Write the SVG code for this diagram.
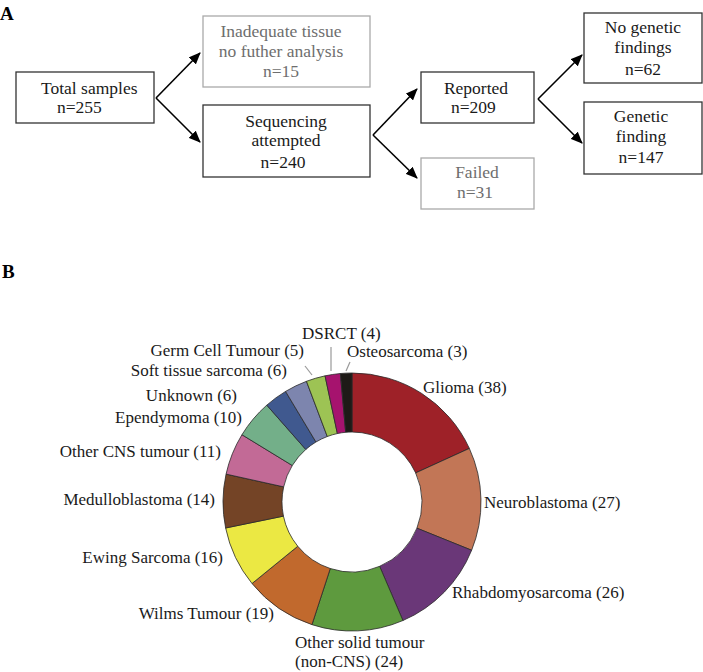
<svg xmlns="http://www.w3.org/2000/svg" width="703" height="672" viewBox="0 0 703 672">
<defs>
<marker id="ah" markerWidth="12" markerHeight="10" refX="11" refY="5" orient="auto" markerUnits="userSpaceOnUse">
<path d="M0,0 L12,5 L0,10 Z" fill="#000"/>
</marker>
</defs>
<style>
text{font-family:"Liberation Serif","Times New Roman",serif;font-size:17.5px;fill:#1a1a1a}
.g text{fill:#6e6e6e}
.box{fill:#fff;stroke:#333;stroke-width:1.3}
.gbox{fill:#fff;stroke:#aaa;stroke-width:1.3}
.lbl{font-size:17px}
.arr{stroke:#000;stroke-width:1.6;fill:none;marker-end:url(#ah)}
.seg{stroke:#2a2a2a;stroke-width:0.8}
.lead{stroke:#999;stroke-width:1.2}
.hdr{font-weight:bold;font-size:19px;fill:#000}
</style>
<rect width="703" height="672" fill="#fff"/>
<text class="hdr" x="0" y="20">A</text>
<text class="hdr" x="2" y="278">B</text>

<g id="connectors">
<line class="arr" x1="156" y1="98" x2="200" y2="53"/>
<line class="arr" x1="156" y1="98" x2="200" y2="142"/>
<line class="arr" x1="373" y1="135" x2="417" y2="89"/>
<line class="arr" x1="373" y1="135" x2="417" y2="178"/>
<line class="arr" x1="538" y1="99" x2="582" y2="55"/>
<line class="arr" x1="538" y1="99" x2="582" y2="143"/>
</g>

<g id="total">
<rect class="box" x="16" y="72" width="138" height="51"/>
<text x="41" y="94">Total samples</text>
<text x="57" y="113">n=255</text>
</g>
<g id="inadequate" class="g">
<rect class="gbox" x="203" y="16" width="167" height="71"/>
<text x="281" y="37" text-anchor="middle">Inadequate tissue</text>
<text x="281" y="57" text-anchor="middle">no futher analysis</text>
<text x="281" y="77" text-anchor="middle">n=15</text>
</g>
<g id="sequencing">
<rect class="box" x="203" y="105" width="167" height="72"/>
<text x="286" y="127" text-anchor="middle">Sequencing</text>
<text x="286" y="146" text-anchor="middle">attempted</text>
<text x="283" y="168" text-anchor="middle">n=240</text>
</g>
<g id="reported">
<rect class="box" x="421" y="72" width="113" height="51"/>
<text x="476" y="94" text-anchor="middle">Reported</text>
<text x="451" y="113">n=209</text>
</g>
<g id="failed" class="g">
<rect class="gbox" x="421" y="158" width="113" height="51"/>
<text x="477" y="178" text-anchor="middle">Failed</text>
<text x="457" y="198">n=31</text>
</g>
<g id="nogenetic">
<rect class="box" x="584" y="13" width="118" height="70"/>
<text x="643" y="33" text-anchor="middle">No genetic</text>
<text x="643" y="53" text-anchor="middle">findings</text>
<text x="643" y="75" text-anchor="middle">n=62</text>
</g>
<g id="genetic">
<rect class="box" x="584" y="102" width="118" height="72"/>
<text x="641" y="122" text-anchor="middle">Genetic</text>
<text x="641" y="142" text-anchor="middle">finding</text>
<text x="641" y="163" text-anchor="middle">n=147</text>
</g>

<g id="donut">
<path class="seg" fill="#9E2128" d="M352,373 A129,129 0 0 1 469.35,448.41 L415.68,472.92 A70,70 0 0 0 352,432 Z"/>
<path class="seg" fill="#C27656" d="M469.35,448.41 A129,129 0 0 1 471.63,550.25 L416.92,528.18 A70,70 0 0 0 415.68,472.92 Z"/>
<path class="seg" fill="#6A3778" d="M471.63,550.25 A129,129 0 0 1 402.93,620.53 L379.64,566.32 A70,70 0 0 0 416.92,528.18 Z"/>
<path class="seg" fill="#5E9A3E" d="M402.93,620.53 A129,129 0 0 1 311.96,624.63 L330.27,568.54 A70,70 0 0 0 379.64,566.32 Z"/>
<path class="seg" fill="#C1692D" d="M311.96,624.63 A129,129 0 0 1 252.02,583.53 L297.75,546.24 A70,70 0 0 0 330.27,568.54 Z"/>
<path class="seg" fill="#EBE843" d="M252.02,583.53 A129,129 0 0 1 225.64,527.99 L283.43,516.11 A70,70 0 0 0 297.75,546.24 Z"/>
<path class="seg" fill="#744426" d="M225.64,527.99 A129,129 0 0 1 226.06,474.11 L283.66,486.87 A70,70 0 0 0 283.43,516.11 Z"/>
<path class="seg" fill="#C26A96" d="M226.06,474.11 A129,129 0 0 1 241.94,434.73 L292.28,465.49 A70,70 0 0 0 283.66,486.87 Z"/>
<path class="seg" fill="#73AF89" d="M241.94,434.73 A129,129 0 0 1 266.78,405.15 L305.76,449.44 A70,70 0 0 0 292.28,465.49 Z"/>
<path class="seg" fill="#40598F" d="M266.78,405.15 A129,129 0 0 1 285.55,391.42 L315.94,442 A70,70 0 0 0 305.76,449.44 Z"/>
<path class="seg" fill="#7D85AE" d="M285.55,391.42 A129,129 0 0 1 306.46,381.31 L327.29,436.51 A70,70 0 0 0 315.94,442 Z"/>
<path class="seg" fill="#9DC354" d="M306.46,381.31 A129,129 0 0 1 325.05,375.85 L337.38,433.55 A70,70 0 0 0 327.29,436.51 Z"/>
<path class="seg" fill="#A6136E" d="M325.05,375.85 A129,129 0 0 1 340.38,373.53 L345.69,432.29 A70,70 0 0 0 337.38,433.55 Z"/>
<path class="seg" fill="#1E1A17" d="M340.38,373.53 A129,129 0 0 1 352,373 L352,432 A70,70 0 0 0 345.69,432.29 Z"/>
</g>

<g id="leaders">
<line class="lead" x1="312" y1="375" x2="305" y2="366"/>
<line class="lead" x1="331" y1="371" x2="331" y2="347"/>
<line class="lead" x1="346" y1="371" x2="350" y2="362"/>
</g>

<g id="labels">
<text class="lbl" x="302" y="339">DSRCT (4)</text>
<text class="lbl" x="347" y="357">Osteosarcoma (3)</text>
<text class="lbl" x="304" y="356" text-anchor="end">Germ Cell Tumour (5)</text>
<text class="lbl" x="287" y="376" text-anchor="end">Soft tissue sarcoma (6)</text>
<text class="lbl" x="237" y="401" text-anchor="end">Unknown (6)</text>
<text class="lbl" x="242" y="423" text-anchor="end">Ependymoma (10)</text>
<text class="lbl" x="221" y="457" text-anchor="end">Other CNS tumour (11)</text>
<text class="lbl" x="215" y="505" text-anchor="end">Medulloblastoma (14)</text>
<text class="lbl" x="223" y="563" text-anchor="end">Ewing Sarcoma (16)</text>
<text class="lbl" x="274" y="619" text-anchor="end">Wilms Tumour (19)</text>
<text class="lbl" x="295" y="648">Other solid tumour</text>
<text class="lbl" x="295" y="667">(non-CNS) (24)</text>
<text class="lbl" x="423" y="393">Glioma (38)</text>
<text class="lbl" x="484" y="508">Neuroblastoma (27)</text>
<text class="lbl" x="452" y="598">Rhabdomyosarcoma (26)</text>
</g>
</svg>
